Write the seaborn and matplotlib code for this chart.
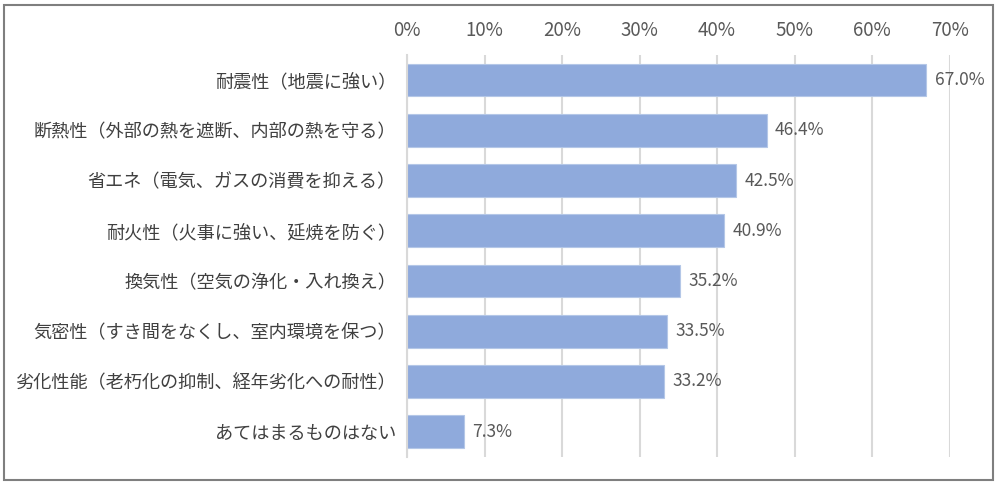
import matplotlib
matplotlib.use("Agg")
import matplotlib.pyplot as plt
import matplotlib.patches as mpatches
from matplotlib.ticker import FuncFormatter, MultipleLocator
import pandas as pd
import seaborn as sns

# データ
categories = [
    "耐震性（地震に強い）",
    "断熱性（外部の熱を遮断、内部の熱を守る）",
    "省エネ（電気、ガスの消費を抑える）",
    "耐火性（火事に強い、延焼を防ぐ）",
    "換気性（空気の浄化・入れ換え）",
    "気密性（すき間をなくし、室内環境を保つ）",
    "劣化性能（老朽化の抑制、経年劣化への耐性）",
    "あてはまるものはない",
]
values = [67.0, 46.4, 42.5, 40.9, 35.2, 33.5, 33.2, 7.3]

df = pd.DataFrame({"item": categories, "pct": values})

sns.set_theme(style="white")
plt.rcParams["font.family"] = ["Noto Sans CJK JP", "DejaVu Sans"]

TEXT = "#595959"
GRID = "#D9D9D9"
BAR = "#8FAADC"

fig = plt.figure(figsize=(10, 4.87), dpi=100)
ax = fig.add_axes([0.407, 0.062, 0.5426, 0.825])

sns.barplot(data=df, x="pct", y="item", orient="h", color=BAR,
            saturation=1, width=0.65, edgecolor="#B4C7E7", linewidth=0.8, ax=ax)

ax.set_xlim(0, 70)
ax.xaxis.set_major_locator(MultipleLocator(10))
ax.xaxis.set_major_formatter(FuncFormatter(lambda v, _: f"{v:.0f}%"))
ax.xaxis.tick_top()
ax.grid(axis="x", color=GRID, linewidth=1.5)
ax.set_axisbelow(True)
ax.tick_params(axis="both", length=0)
ax.tick_params(axis="x", labelsize=13.5, labelcolor=TEXT, pad=10)
ax.tick_params(axis="y", labelsize=13.1, labelcolor="#404040", pad=8)
ax.set_xlabel("")
ax.set_ylabel("")
for side in ["top", "right", "bottom"]:
    ax.spines[side].set_visible(False)
ax.spines["left"].set_color(GRID)
ax.spines["left"].set_linewidth(1.5)

ax.bar_label(ax.containers[0], labels=[f"{v:.1f}%" for v in values],
             padding=6, fontsize=12.5, color=TEXT)

# 外枠
fig.patches.append(mpatches.Rectangle((0.004, 0.014), 0.989, 0.975, transform=fig.transFigure,
                                      fill=False, edgecolor="#7F7F7F", linewidth=1.5))

fig.savefig("out.png", dpi=100)
